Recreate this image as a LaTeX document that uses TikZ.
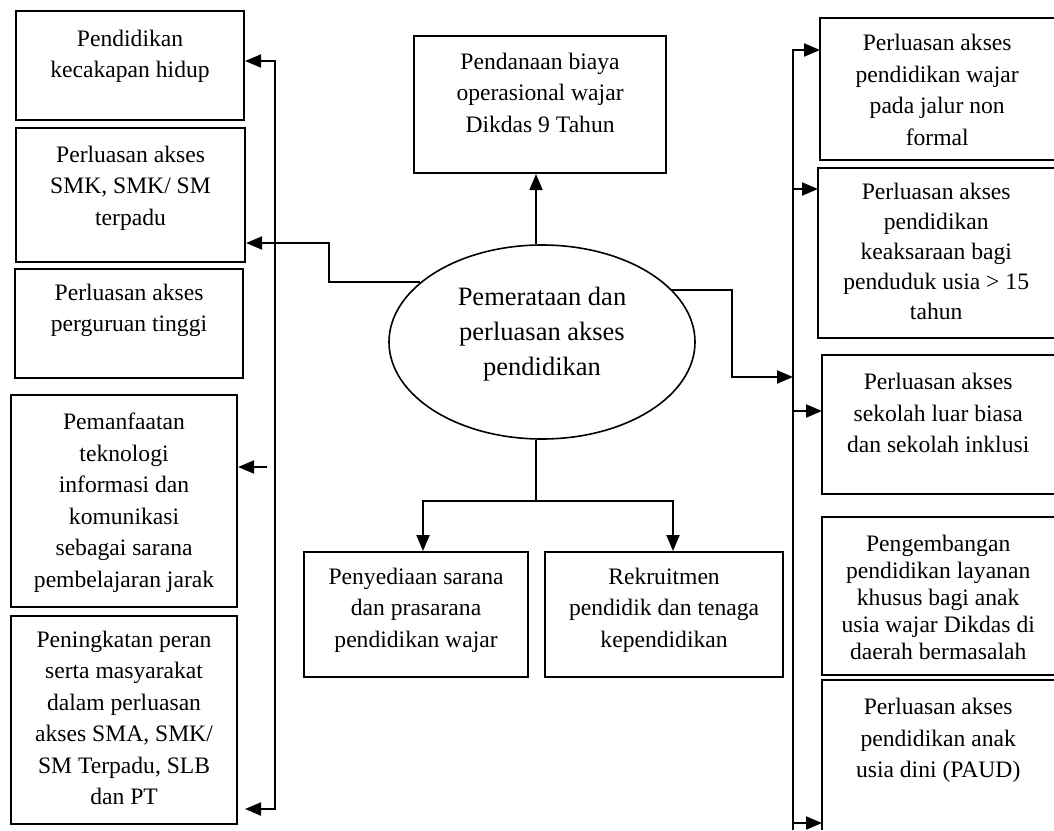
\documentclass[tikz,border=0pt]{standalone}
\usepackage{fontspec}
\setmainfont{Liberation Serif}
\usetikzlibrary{shapes.geometric,arrows.meta}
\newcommand{\bxt}[4]{\parbox[c][#2][t]{#1}{\centering\vspace*{#3}#4}}
\tikzset{
  ebox/.style={draw, line width=2.1pt, inner sep=0pt, anchor=north west},
  obox/.style={inner sep=0pt, anchor=north west},
  bline/.style={line width=2.1pt},
  conn/.style={line width=2pt},
  arr/.style={line width=2pt, -{Triangle[length=16pt,width=13pt]}},
  darr/.style={line width=2pt, {Triangle[length=16pt,width=13pt]}-{Triangle[length=16pt,width=13pt]}}
}
\begin{document}
\begin{tikzpicture}[x=1pt,y=-1pt,font=\fontsize{23.6}{31.5}\selectfont]
\useasboundingbox (0,0) rectangle (1054,830);
% left column
\node[ebox] (b1) at (15,10) {\bxt{228pt}{109pt}{19pt}{Pendidikan\\kecakapan hidup}};
\node[ebox] (b2) at (15,127) {\bxt{229pt}{134pt}{18pt}{Perluasan akses\\SMK, SMK/ SM\\terpadu}};
\node[ebox] (b3) at (14,268) {\bxt{228pt}{109pt}{15pt}{Perluasan akses\\perguruan tinggi}};
\node[ebox] (b4) at (10,394) {\bxt{226pt}{212pt}{18pt}{Pemanfaatan\\teknologi\\informasi dan\\komunikasi\\sebagai sarana\\pembelajaran jarak}};
\node[ebox] (b5) at (10,615) {\bxt{226pt}{208pt}{15pt}{Peningkatan peran\\serta masyarakat\\dalam perluasan\\akses SMA, SMK/\\SM Terpadu, SLB\\dan PT}};
% centre
\node[ebox] (top) at (413,35) {\bxt{252pt}{137pt}{17pt}{Pendanaan biaya\\operasional wajar\\Dikdas 9 Tahun}};
\node[ellipse, draw, line width=1.6pt, minimum width=306pt, minimum height=194pt, inner sep=0pt,
      font=\fontsize{26.5}{35}\selectfont] (e) at (542,342)
      {\parbox[c][130pt][t]{200pt}{\centering\vspace*{10pt}Pemerataan dan\\perluasan akses\\pendidikan}};
\node[ebox] (A) at (303,551) {\bxt{224pt}{125pt}{16pt}{Penyediaan sarana\\dan prasarana\\pendidikan wajar}};
\node[ebox] (B) at (544,551) {\bxt{238pt}{125pt}{16pt}{Rekruitmen\\pendidik dan tenaga\\kependidikan}};
% right column (open to the right edge)
\node[obox] (R1) at (820,18) {\bxt{234pt}{142pt}{16pt}{Perluasan akses\\pendidikan wajar\\pada jalur non\\formal}};
\node[obox] (R2) at (818,168) {\bxt{236pt}{170pt}{15pt}{\fontsize{23.6}{30}\selectfont Perluasan akses\\pendidikan\\keaksaraan bagi\\penduduk usia > 15\\tahun}};
\node[obox] (R3) at (822,355) {\bxt{232pt}{139pt}{18pt}{Perluasan akses\\sekolah luar biasa\\dan sekolah inklusi}};
\node[obox] (R4) at (822,517) {\bxt{232pt}{158pt}{18pt}{\fontsize{23.6}{27}\selectfont Pengembangan\\pendidikan layanan\\khusus bagi anak\\usia wajar Dikdas di\\daerah bermasalah}};
\node[obox] (R5) at (822,680) {\bxt{232pt}{150pt}{18pt}{Perluasan akses\\pendidikan anak\\usia dini (PAUD)}};
\draw[bline] (R1.north east) -- (R1.north west) -- (R1.south west) -- (R1.south east);
\draw[bline] (R2.north east) -- (R2.north west) -- (R2.south west) -- (R2.south east);
\draw[bline] (R3.north east) -- (R3.north west) -- (R3.south west) -- (R3.south east);
\draw[bline] (R4.north east) -- (R4.north west) -- (R4.south west) -- (R4.south east);
\draw[bline] (R5.north east) -- (R5.north west) -- (R5.south west);
% coordinates
\coordinate (lt) at (275,61);
\coordinate (lb) at (275,809);
\coordinate (lbe) at (245,809);
\coordinate (l1) at (329,243);
\coordinate (s4) at (267,467);
\coordinate (bj) at (536,501);
\coordinate (ba) at (423,501);
\coordinate (bb) at (673,501);
\coordinate (r1) at (732,377);
\coordinate (r2) at (793,377);
\coordinate (vt) at (793,50);
\coordinate (vb) at (793,830);
\coordinate (v2) at (793,189);
\coordinate (v3) at (793,411);
\coordinate (v5) at (793,823);
% left connectors
\draw[darr] (lt -| b1.east) -- (lt) -- (lb) -- (lbe);
\draw[arr] (e.154) -| (l1) -- (l1 -| b2.east);
\draw[arr] (s4) -- (s4 -| b4.east);
% top and bottom
\draw[arr] (e.north -| bj) -- (bj |- top.south);
\draw[conn] (e.south -| bj) -- (bj);
\draw[arr] (bj) -- (ba) -- (ba |- A.north);
\draw[arr] (bj) -- (bb) -- (bb |- B.north);
% right connectors
\draw[arr] (e.22) -| (r1) -- (r2);
\draw[arr] (vb) -- (vt) -- (vt -| R1.west);
\draw[arr] (v2) -- (v2 -| R2.west);
\draw[arr] (v3) -- (v3 -| R3.west);
\draw[arr] (v5) -- (v5 -| R5.west);
\end{tikzpicture}
\end{document}
